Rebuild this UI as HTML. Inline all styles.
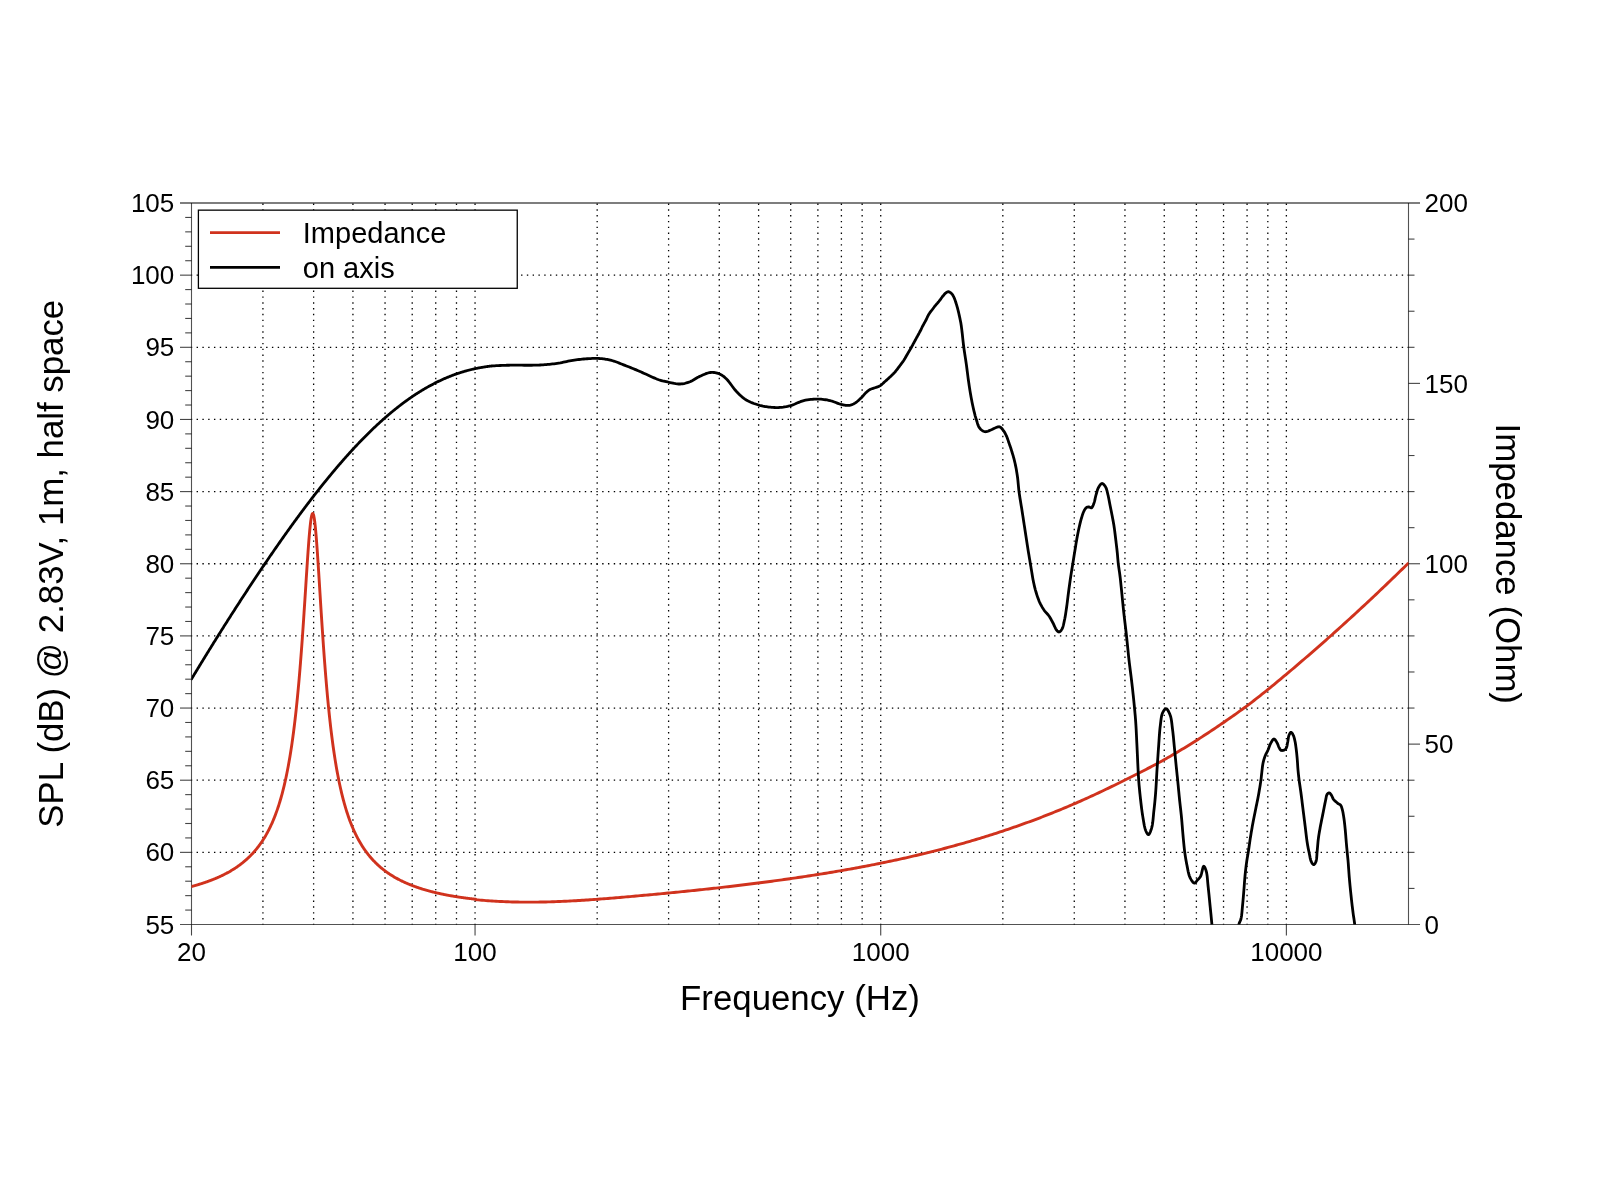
<!DOCTYPE html>
<html><head><meta charset="utf-8"><title>SPL and Impedance</title>
<style>
html,body{margin:0;padding:0;background:#fff;}
body{width:1600px;height:1200px;overflow:hidden;}
svg{display:block;will-change:transform;}
text{font-family:"Liberation Sans",sans-serif;fill:#000;}
</style></head><body>
<svg width="1600" height="1200" viewBox="0 0 1600 1200">
<rect x="0" y="0" width="1600" height="1200" fill="#fff"/>
<defs><clipPath id="pc"><rect x="191.5" y="203.0" width="1217.0" height="721.5"/></clipPath></defs>
<g stroke="#000" stroke-width="1.3" stroke-dashoffset="0.7" fill="none">
<line x1="262.93" y1="924.50" x2="262.93" y2="203.00" stroke-dasharray="1.4 4.409"/>
<line x1="313.62" y1="924.50" x2="313.62" y2="203.00" stroke-dasharray="1.4 4.409"/>
<line x1="352.93" y1="924.50" x2="352.93" y2="203.00" stroke-dasharray="1.4 4.409"/>
<line x1="385.05" y1="924.50" x2="385.05" y2="203.00" stroke-dasharray="1.4 4.409"/>
<line x1="412.21" y1="924.50" x2="412.21" y2="203.00" stroke-dasharray="1.4 4.409"/>
<line x1="435.74" y1="924.50" x2="435.74" y2="203.00" stroke-dasharray="1.4 4.409"/>
<line x1="456.49" y1="924.50" x2="456.49" y2="203.00" stroke-dasharray="1.4 4.409"/>
<line x1="475.05" y1="924.50" x2="475.05" y2="203.00" stroke-dasharray="1.4 4.409"/>
<line x1="597.17" y1="924.50" x2="597.17" y2="203.00" stroke-dasharray="1.4 4.409"/>
<line x1="668.60" y1="924.50" x2="668.60" y2="203.00" stroke-dasharray="1.4 4.409"/>
<line x1="719.28" y1="924.50" x2="719.28" y2="203.00" stroke-dasharray="1.4 4.409"/>
<line x1="758.60" y1="924.50" x2="758.60" y2="203.00" stroke-dasharray="1.4 4.409"/>
<line x1="790.72" y1="924.50" x2="790.72" y2="203.00" stroke-dasharray="1.4 4.409"/>
<line x1="817.88" y1="924.50" x2="817.88" y2="203.00" stroke-dasharray="1.4 4.409"/>
<line x1="841.40" y1="924.50" x2="841.40" y2="203.00" stroke-dasharray="1.4 4.409"/>
<line x1="862.15" y1="924.50" x2="862.15" y2="203.00" stroke-dasharray="1.4 4.409"/>
<line x1="880.72" y1="924.50" x2="880.72" y2="203.00" stroke-dasharray="1.4 4.409"/>
<line x1="1002.83" y1="924.50" x2="1002.83" y2="203.00" stroke-dasharray="1.4 4.409"/>
<line x1="1074.27" y1="924.50" x2="1074.27" y2="203.00" stroke-dasharray="1.4 4.409"/>
<line x1="1124.95" y1="924.50" x2="1124.95" y2="203.00" stroke-dasharray="1.4 4.409"/>
<line x1="1164.26" y1="924.50" x2="1164.26" y2="203.00" stroke-dasharray="1.4 4.409"/>
<line x1="1196.39" y1="924.50" x2="1196.39" y2="203.00" stroke-dasharray="1.4 4.409"/>
<line x1="1223.54" y1="924.50" x2="1223.54" y2="203.00" stroke-dasharray="1.4 4.409"/>
<line x1="1247.07" y1="924.50" x2="1247.07" y2="203.00" stroke-dasharray="1.4 4.409"/>
<line x1="1267.82" y1="924.50" x2="1267.82" y2="203.00" stroke-dasharray="1.4 4.409"/>
<line x1="1286.38" y1="924.50" x2="1286.38" y2="203.00" stroke-dasharray="1.4 4.409"/>
<line x1="191.50" y1="852.35" x2="1408.50" y2="852.35" stroke-dasharray="1.4 4.394"/>
<line x1="191.50" y1="780.20" x2="1408.50" y2="780.20" stroke-dasharray="1.4 4.394"/>
<line x1="191.50" y1="708.05" x2="1408.50" y2="708.05" stroke-dasharray="1.4 4.394"/>
<line x1="191.50" y1="635.90" x2="1408.50" y2="635.90" stroke-dasharray="1.4 4.394"/>
<line x1="191.50" y1="563.75" x2="1408.50" y2="563.75" stroke-dasharray="1.4 4.394"/>
<line x1="191.50" y1="491.60" x2="1408.50" y2="491.60" stroke-dasharray="1.4 4.394"/>
<line x1="191.50" y1="419.45" x2="1408.50" y2="419.45" stroke-dasharray="1.4 4.394"/>
<line x1="191.50" y1="347.30" x2="1408.50" y2="347.30" stroke-dasharray="1.4 4.394"/>
<line x1="191.50" y1="275.15" x2="1408.50" y2="275.15" stroke-dasharray="1.4 4.394"/>
</g>
<g stroke="#454545" stroke-width="1.1" fill="none">
<line x1="185.20" y1="910.07" x2="191.50" y2="910.07"/>
<line x1="185.20" y1="895.64" x2="191.50" y2="895.64"/>
<line x1="185.20" y1="881.21" x2="191.50" y2="881.21"/>
<line x1="185.20" y1="866.78" x2="191.50" y2="866.78"/>
<line x1="180.00" y1="852.35" x2="191.50" y2="852.35"/>
<line x1="185.20" y1="837.92" x2="191.50" y2="837.92"/>
<line x1="185.20" y1="823.49" x2="191.50" y2="823.49"/>
<line x1="185.20" y1="809.06" x2="191.50" y2="809.06"/>
<line x1="185.20" y1="794.63" x2="191.50" y2="794.63"/>
<line x1="180.00" y1="780.20" x2="191.50" y2="780.20"/>
<line x1="185.20" y1="765.77" x2="191.50" y2="765.77"/>
<line x1="185.20" y1="751.34" x2="191.50" y2="751.34"/>
<line x1="185.20" y1="736.91" x2="191.50" y2="736.91"/>
<line x1="185.20" y1="722.48" x2="191.50" y2="722.48"/>
<line x1="180.00" y1="708.05" x2="191.50" y2="708.05"/>
<line x1="185.20" y1="693.62" x2="191.50" y2="693.62"/>
<line x1="185.20" y1="679.19" x2="191.50" y2="679.19"/>
<line x1="185.20" y1="664.76" x2="191.50" y2="664.76"/>
<line x1="185.20" y1="650.33" x2="191.50" y2="650.33"/>
<line x1="180.00" y1="635.90" x2="191.50" y2="635.90"/>
<line x1="185.20" y1="621.47" x2="191.50" y2="621.47"/>
<line x1="185.20" y1="607.04" x2="191.50" y2="607.04"/>
<line x1="185.20" y1="592.61" x2="191.50" y2="592.61"/>
<line x1="185.20" y1="578.18" x2="191.50" y2="578.18"/>
<line x1="180.00" y1="563.75" x2="191.50" y2="563.75"/>
<line x1="185.20" y1="549.32" x2="191.50" y2="549.32"/>
<line x1="185.20" y1="534.89" x2="191.50" y2="534.89"/>
<line x1="185.20" y1="520.46" x2="191.50" y2="520.46"/>
<line x1="185.20" y1="506.03" x2="191.50" y2="506.03"/>
<line x1="180.00" y1="491.60" x2="191.50" y2="491.60"/>
<line x1="185.20" y1="477.17" x2="191.50" y2="477.17"/>
<line x1="185.20" y1="462.74" x2="191.50" y2="462.74"/>
<line x1="185.20" y1="448.31" x2="191.50" y2="448.31"/>
<line x1="185.20" y1="433.88" x2="191.50" y2="433.88"/>
<line x1="180.00" y1="419.45" x2="191.50" y2="419.45"/>
<line x1="185.20" y1="405.02" x2="191.50" y2="405.02"/>
<line x1="185.20" y1="390.59" x2="191.50" y2="390.59"/>
<line x1="185.20" y1="376.16" x2="191.50" y2="376.16"/>
<line x1="185.20" y1="361.73" x2="191.50" y2="361.73"/>
<line x1="180.00" y1="347.30" x2="191.50" y2="347.30"/>
<line x1="185.20" y1="332.87" x2="191.50" y2="332.87"/>
<line x1="185.20" y1="318.44" x2="191.50" y2="318.44"/>
<line x1="185.20" y1="304.01" x2="191.50" y2="304.01"/>
<line x1="185.20" y1="289.58" x2="191.50" y2="289.58"/>
<line x1="180.00" y1="275.15" x2="191.50" y2="275.15"/>
<line x1="185.20" y1="260.72" x2="191.50" y2="260.72"/>
<line x1="185.20" y1="246.29" x2="191.50" y2="246.29"/>
<line x1="185.20" y1="231.86" x2="191.50" y2="231.86"/>
<line x1="185.20" y1="217.43" x2="191.50" y2="217.43"/>
<line x1="1408.50" y1="888.42" x2="1414.50" y2="888.42"/>
<line x1="1408.50" y1="852.35" x2="1414.50" y2="852.35"/>
<line x1="1408.50" y1="816.27" x2="1414.50" y2="816.27"/>
<line x1="1408.50" y1="780.20" x2="1414.50" y2="780.20"/>
<line x1="1408.50" y1="744.12" x2="1420.00" y2="744.12"/>
<line x1="1408.50" y1="708.05" x2="1414.50" y2="708.05"/>
<line x1="1408.50" y1="671.98" x2="1414.50" y2="671.98"/>
<line x1="1408.50" y1="635.90" x2="1414.50" y2="635.90"/>
<line x1="1408.50" y1="599.83" x2="1414.50" y2="599.83"/>
<line x1="1408.50" y1="563.75" x2="1420.00" y2="563.75"/>
<line x1="1408.50" y1="527.67" x2="1414.50" y2="527.67"/>
<line x1="1408.50" y1="491.60" x2="1414.50" y2="491.60"/>
<line x1="1408.50" y1="455.52" x2="1414.50" y2="455.52"/>
<line x1="1408.50" y1="419.45" x2="1414.50" y2="419.45"/>
<line x1="1408.50" y1="383.38" x2="1420.00" y2="383.38"/>
<line x1="1408.50" y1="347.30" x2="1414.50" y2="347.30"/>
<line x1="1408.50" y1="311.23" x2="1414.50" y2="311.23"/>
<line x1="1408.50" y1="275.15" x2="1414.50" y2="275.15"/>
<line x1="1408.50" y1="239.08" x2="1414.50" y2="239.08"/>
<line x1="191.50" y1="924.50" x2="191.50" y2="935.50"/>
<line x1="475.05" y1="924.50" x2="475.05" y2="935.50"/>
<line x1="880.72" y1="924.50" x2="880.72" y2="935.50"/>
<line x1="1286.38" y1="924.50" x2="1286.38" y2="935.50"/>
</g>
<g stroke="#000" stroke-opacity="0.68" stroke-width="1.1" fill="none">
<line x1="191.50" y1="203.00" x2="191.50" y2="924.50"/>
<line x1="1408.50" y1="203.00" x2="1408.50" y2="924.50"/>
<line x1="180.00" y1="202.90" x2="1420.00" y2="202.90" stroke-width="1.5"/>
<line x1="180.00" y1="924.50" x2="1420.00" y2="924.50"/>
</g>
<g clip-path="url(#pc)" fill="none" stroke-linejoin="round" stroke-linecap="round">
<path d="M191.50,886.51 L191.94,886.39 L192.38,886.27 L192.82,886.15 L193.27,886.03 L193.71,885.91 L194.15,885.79 L194.59,885.66 L195.03,885.54 L195.47,885.41 L195.91,885.29 L196.35,885.16 L196.80,885.03 L197.24,884.90 L197.68,884.77 L198.12,884.64 L198.56,884.50 L199.00,884.37 L199.44,884.24 L199.89,884.10 L200.33,883.96 L200.77,883.82 L201.21,883.69 L201.65,883.54 L202.09,883.40 L202.53,883.26 L202.97,883.12 L203.42,882.97 L203.86,882.82 L204.30,882.68 L204.74,882.53 L205.18,882.38 L205.62,882.23 L206.06,882.07 L206.51,881.92 L206.95,881.77 L207.39,881.61 L207.83,881.45 L208.27,881.29 L208.71,881.13 L209.15,880.97 L209.60,880.81 L210.04,880.64 L210.48,880.48 L210.92,880.31 L211.36,880.14 L211.80,879.97 L212.24,879.80 L212.68,879.62 L213.13,879.45 L213.57,879.27 L214.01,879.09 L214.45,878.91 L214.89,878.73 L215.33,878.55 L215.77,878.36 L216.22,878.17 L216.66,877.99 L217.10,877.80 L217.54,877.60 L217.98,877.41 L218.42,877.21 L218.86,877.02 L219.30,876.82 L219.75,876.62 L220.19,876.41 L220.63,876.21 L221.07,876.00 L221.51,875.79 L221.95,875.58 L222.39,875.37 L222.84,875.15 L223.28,874.93 L223.72,874.71 L224.16,874.49 L224.60,874.27 L225.04,874.04 L225.48,873.81 L225.92,873.58 L226.37,873.35 L226.81,873.11 L227.25,872.88 L227.69,872.64 L228.13,872.39 L228.57,872.15 L229.01,871.90 L229.46,871.65 L229.90,871.39 L230.34,871.14 L230.78,870.88 L231.22,870.62 L231.66,870.35 L232.10,870.09 L232.55,869.82 L232.99,869.54 L233.43,869.27 L233.87,868.99 L234.31,868.71 L234.75,868.42 L235.19,868.13 L235.63,867.84 L236.08,867.54 L236.52,867.25 L236.96,866.94 L237.40,866.64 L237.84,866.33 L238.28,866.02 L238.72,865.70 L239.17,865.38 L239.61,865.06 L240.05,864.73 L240.49,864.40 L240.93,864.06 L241.37,863.72 L241.81,863.38 L242.25,863.03 L242.70,862.68 L243.14,862.32 L243.58,861.96 L244.02,861.59 L244.46,861.22 L244.90,860.85 L245.34,860.47 L245.79,860.08 L246.23,859.69 L246.67,859.30 L247.11,858.90 L247.55,858.49 L247.99,858.08 L248.43,857.67 L248.87,857.24 L249.32,856.82 L249.76,856.38 L250.20,855.95 L250.64,855.50 L251.08,855.05 L251.52,854.59 L251.96,854.13 L252.41,853.66 L252.85,853.18 L253.29,852.70 L253.73,852.20 L254.17,851.71 L254.61,851.20 L255.05,850.69 L255.49,850.17 L255.94,849.64 L256.38,849.10 L256.82,848.56 L257.26,848.01 L257.70,847.45 L258.14,846.88 L258.58,846.30 L259.03,845.71 L259.47,845.11 L259.91,844.51 L260.35,843.89 L260.79,843.27 L261.23,842.63 L261.67,841.98 L262.12,841.33 L262.56,840.66 L263.00,839.98 L263.44,839.29 L263.88,838.58 L264.32,837.87 L264.76,837.14 L265.20,836.40 L265.65,835.65 L266.09,834.88 L266.53,834.10 L266.97,833.31 L267.41,832.50 L267.85,831.68 L268.29,830.84 L268.74,829.99 L269.18,829.12 L269.62,828.23 L270.06,827.33 L270.50,826.41 L270.94,825.47 L271.38,824.51 L271.82,823.54 L272.27,822.54 L272.71,821.52 L273.15,820.49 L273.59,819.43 L274.03,818.35 L274.47,817.25 L274.91,816.13 L275.36,814.98 L275.80,813.80 L276.24,812.60 L276.68,811.38 L277.12,810.13 L277.56,808.85 L278.00,807.54 L278.44,806.20 L278.89,804.83 L279.33,803.43 L279.77,801.99 L280.21,800.52 L280.65,799.02 L281.09,797.48 L281.53,795.90 L281.98,794.29 L282.42,792.63 L282.86,790.93 L283.30,789.19 L283.74,787.41 L284.18,785.58 L284.62,783.70 L285.07,781.77 L285.51,779.79 L285.95,777.75 L286.39,775.66 L286.83,773.52 L287.27,771.31 L287.71,769.04 L288.15,766.71 L288.60,764.31 L289.04,761.84 L289.48,759.30 L289.92,756.68 L290.36,753.99 L290.80,751.22 L291.24,748.36 L291.69,745.41 L292.13,742.38 L292.57,739.25 L293.01,736.02 L293.45,732.69 L293.89,729.25 L294.33,725.71 L294.77,722.05 L295.22,718.28 L295.66,714.38 L296.10,710.36 L296.54,706.21 L296.98,701.92 L297.42,697.49 L297.86,692.92 L298.31,688.21 L298.75,683.34 L299.19,678.33 L299.63,673.15 L300.07,667.82 L300.51,662.33 L300.95,656.68 L301.39,650.87 L301.84,644.90 L302.28,638.78 L302.72,632.51 L303.16,626.10 L303.60,619.56 L304.04,612.91 L304.48,606.16 L304.93,599.33 L305.37,592.45 L305.81,585.54 L306.25,578.65 L306.69,571.81 L307.13,565.07 L307.57,558.49 L308.02,552.10 L308.46,545.99 L308.90,540.20 L309.34,534.82 L309.78,529.90 L310.22,525.52 L310.66,521.73 L311.10,518.60 L311.55,516.18 L311.99,514.51 L312.43,513.62 L312.87,513.53 L313.31,514.24 L313.75,515.74 L314.19,518.01 L314.64,521.00 L315.08,524.68 L315.52,528.99 L315.96,533.86 L316.40,539.22 L316.84,545.02 L317.28,551.18 L317.72,557.63 L318.17,564.32 L318.61,571.17 L319.05,578.15 L319.49,585.19 L319.93,592.26 L320.37,599.32 L320.81,606.34 L321.26,613.28 L321.70,620.12 L322.14,626.86 L322.58,633.46 L323.02,639.92 L323.46,646.24 L323.90,652.39 L324.34,658.39 L324.79,664.22 L325.23,669.89 L325.67,675.39 L326.11,680.72 L326.55,685.90 L326.99,690.92 L327.43,695.78 L327.88,700.49 L328.32,705.05 L328.76,709.47 L329.20,713.75 L329.64,717.89 L330.08,721.90 L330.52,725.79 L330.96,729.55 L331.41,733.20 L331.85,736.73 L332.29,740.15 L332.73,743.47 L333.17,746.68 L333.61,749.80 L334.05,752.82 L334.50,755.75 L334.94,758.60 L335.38,761.36 L335.82,764.04 L336.26,766.65 L336.70,769.18 L337.14,771.63 L337.59,774.02 L338.03,776.34 L338.47,778.60 L338.91,780.80 L339.35,782.93 L339.79,785.01 L340.23,787.04 L340.67,789.01 L341.12,790.93 L341.56,792.80 L342.00,794.62 L342.44,796.40 L342.88,798.13 L343.32,799.82 L343.76,801.47 L344.21,803.07 L344.65,804.64 L345.09,806.17 L345.53,807.67 L345.97,809.13 L346.41,810.56 L346.85,811.95 L347.29,813.31 L347.74,814.64 L348.18,815.95 L348.62,817.22 L349.06,818.46 L349.50,819.68 L349.94,820.88 L350.38,822.04 L350.83,823.19 L351.27,824.30 L351.71,825.40 L352.15,826.47 L352.59,827.52 L353.03,828.55 L353.47,829.56 L353.91,830.55 L354.36,831.52 L354.80,832.47 L355.24,833.41 L355.68,834.32 L356.12,835.22 L356.56,836.10 L357.00,836.96 L357.45,837.81 L357.89,838.64 L358.33,839.46 L358.77,840.27 L359.21,841.05 L359.65,841.83 L360.09,842.59 L360.54,843.34 L360.98,844.07 L361.42,844.79 L361.86,845.50 L362.30,846.20 L362.74,846.88 L363.18,847.56 L363.62,848.22 L364.07,848.87 L364.51,849.52 L364.95,850.15 L365.39,850.77 L365.83,851.38 L366.27,851.98 L366.71,852.57 L367.16,853.15 L367.60,853.73 L368.04,854.29 L368.48,854.85 L368.92,855.40 L369.36,855.94 L369.80,856.47 L370.24,856.99 L370.69,857.50 L371.13,858.01 L371.57,858.51 L372.01,859.01 L372.45,859.49 L372.89,859.97 L373.33,860.44 L373.78,860.91 L374.22,861.37 L374.66,861.82 L375.10,862.27 L375.54,862.71 L375.98,863.14 L376.42,863.57 L376.86,863.99 L377.31,864.41 L377.75,864.82 L378.19,865.22 L378.63,865.62 L379.07,866.02 L379.51,866.41 L379.95,866.79 L380.40,867.17 L380.84,867.55 L381.28,867.91 L381.72,868.28 L382.16,868.64 L382.60,869.00 L383.04,869.35 L383.48,869.69 L383.93,870.04 L384.37,870.38 L384.81,870.71 L385.25,871.04 L385.69,871.37 L386.13,871.69 L386.57,872.01 L387.02,872.32 L387.46,872.63 L387.90,872.94 L388.34,873.24 L388.78,873.54 L389.22,873.84 L389.66,874.13 L390.11,874.42 L390.55,874.71 L390.99,874.99 L391.43,875.27 L391.87,875.55 L392.31,875.82 L392.75,876.09 L393.19,876.36 L393.64,876.62 L394.08,876.88 L394.52,877.14 L394.96,877.39 L395.40,877.65 L395.84,877.90 L396.28,878.14 L396.73,878.39 L397.17,878.63 L397.61,878.87 L398.05,879.11 L398.49,879.34 L398.93,879.57 L399.37,879.80 L399.81,880.03 L400.26,880.25 L400.70,880.47 L401.14,880.69 L401.58,880.91 L402.02,881.13 L402.46,881.34 L402.90,881.55 L403.35,881.76 L403.79,881.96 L404.23,882.17 L404.67,882.37 L405.11,882.57 L405.55,882.77 L405.99,882.97 L406.43,883.16 L406.88,883.35 L407.32,883.54 L407.76,883.73 L408.20,883.92 L408.64,884.10 L409.08,884.28 L409.52,884.47 L409.97,884.65 L410.41,884.82 L410.85,885.00 L411.29,885.17 L411.73,885.35 L412.17,885.52 L412.61,885.69 L413.06,885.85 L413.50,886.02 L413.94,886.18 L414.38,886.35 L414.82,886.51 L415.26,886.67 L415.70,886.83 L416.14,886.98 L416.59,887.14 L417.03,887.29 L417.47,887.44 L417.91,887.59 L418.35,887.74 L418.79,887.89 L419.23,888.04 L419.68,888.18 L420.12,888.33 L420.56,888.47 L421.00,888.61 L421.44,888.75 L421.88,888.89 L422.32,889.03 L422.76,889.17 L423.21,889.30 L423.65,889.44 L424.09,889.57 L424.53,889.70 L424.97,889.83 L425.41,889.96 L425.85,890.09 L426.30,890.21 L426.74,890.34 L427.18,890.46 L427.62,890.59 L428.06,890.71 L428.50,890.83 L428.94,890.95 L429.38,891.07 L429.83,891.19 L430.27,891.31 L430.71,891.42 L431.15,891.54 L431.59,891.65 L432.03,891.76 L432.47,891.88 L432.92,891.99 L433.36,892.10 L433.80,892.21 L434.24,892.31 L434.68,892.42 L435.12,892.53 L435.56,892.63 L436.01,892.74 L436.45,892.84 L436.89,892.94 L437.33,893.05 L437.77,893.15 L438.21,893.25 L438.65,893.35 L439.09,893.44 L439.54,893.54 L439.98,893.64 L440.42,893.73 L440.86,893.83 L441.30,893.92 L441.74,894.02 L442.18,894.11 L442.63,894.20 L443.07,894.29 L443.51,894.38 L443.95,894.47 L444.39,894.56 L444.83,894.65 L445.27,894.73 L445.71,894.82 L446.16,894.91 L446.60,894.99 L447.04,895.08 L447.48,895.16 L447.92,895.24 L448.36,895.32 L448.80,895.40 L449.25,895.49 L449.69,895.56 L450.13,895.64 L450.57,895.72 L451.01,895.80 L451.45,895.88 L451.89,895.95 L452.33,896.03 L452.78,896.11 L453.22,896.18 L453.66,896.25 L454.10,896.33 L454.54,896.40 L454.98,896.47 L455.42,896.54 L455.87,896.61 L456.31,896.68 L456.75,896.75 L457.19,896.82 L457.63,896.89 L458.07,896.96 L458.51,897.03 L458.95,897.09 L459.40,897.16 L459.84,897.22 L460.28,897.29 L460.72,897.35 L461.16,897.42 L461.60,897.48 L462.04,897.54 L462.49,897.60 L462.93,897.67 L463.37,897.73 L463.81,897.79 L464.25,897.85 L464.69,897.91 L465.13,897.97 L465.58,898.02 L466.02,898.08 L466.46,898.14 L466.90,898.20 L467.34,898.25 L467.78,898.31 L468.22,898.36 L468.66,898.42 L469.11,898.47 L469.55,898.53 L469.99,898.58 L470.43,898.63 L470.87,898.68 L471.31,898.74 L471.75,898.79 L472.20,898.84 L472.64,898.89 L473.08,898.94 L473.52,898.99 L473.96,899.04 L474.40,899.09 L474.84,899.13 L475.28,899.18 L475.73,899.23 L476.00,899.71 L478.00,899.90 L480.00,900.08 L482.00,900.26 L484.00,900.43 L486.00,900.59 L488.00,900.74 L490.00,900.88 L492.00,901.01 L494.00,901.14 L496.00,901.26 L498.00,901.37 L500.00,901.47 L502.00,901.56 L504.00,901.65 L506.00,901.73 L508.00,901.80 L510.00,901.87 L512.00,901.93 L514.00,901.98 L516.00,902.02 L518.00,902.06 L520.00,902.09 L522.00,902.12 L524.00,902.14 L526.00,902.15 L528.00,902.15 L530.00,902.15 L532.00,902.15 L534.00,902.13 L536.00,902.12 L538.00,902.09 L540.00,902.06 L542.00,902.03 L544.00,901.99 L546.00,901.94 L548.00,901.89 L550.00,901.83 L552.00,901.77 L554.00,901.70 L556.00,901.63 L558.00,901.56 L560.00,901.48 L562.00,901.39 L564.00,901.30 L566.00,901.21 L568.00,901.11 L570.00,901.01 L572.00,900.90 L574.00,900.80 L576.00,900.68 L578.00,900.56 L580.00,900.44 L582.00,900.32 L584.00,900.19 L586.00,900.06 L588.00,899.93 L590.00,899.79 L592.00,899.65 L594.00,899.51 L596.00,899.36 L598.00,899.21 L600.00,899.06 L602.00,898.91 L604.00,898.76 L606.00,898.60 L608.00,898.44 L610.00,898.28 L612.00,898.11 L614.00,897.95 L616.00,897.78 L618.00,897.61 L620.00,897.44 L622.00,897.27 L624.00,897.09 L626.00,896.92 L628.00,896.75 L630.00,896.57 L632.00,896.39 L634.00,896.21 L636.00,896.03 L638.00,895.85 L640.00,895.67 L642.00,895.49 L644.00,895.31 L646.00,895.13 L648.00,894.94 L650.00,894.76 L652.00,894.57 L654.00,894.39 L656.00,894.20 L658.00,894.01 L660.00,893.82 L662.00,893.63 L664.00,893.44 L666.00,893.25 L668.00,893.05 L670.00,892.86 L672.00,892.66 L674.00,892.47 L676.00,892.27 L678.00,892.07 L680.00,891.87 L682.00,891.67 L684.00,891.47 L686.00,891.27 L688.00,891.06 L690.00,890.86 L692.00,890.65 L694.00,890.44 L696.00,890.23 L698.00,890.02 L700.00,889.81 L702.00,889.60 L704.00,889.38 L706.00,889.17 L708.00,888.95 L710.00,888.73 L712.00,888.51 L714.00,888.29 L716.00,888.07 L718.00,887.84 L720.00,887.62 L722.00,887.39 L724.00,887.16 L726.00,886.93 L728.00,886.70 L730.00,886.47 L732.00,886.23 L734.00,886.00 L736.00,885.76 L738.00,885.52 L740.00,885.28 L742.00,885.04 L744.00,884.79 L746.00,884.55 L748.00,884.30 L750.00,884.05 L752.00,883.80 L754.00,883.55 L756.00,883.30 L758.00,883.04 L760.00,882.78 L762.00,882.52 L764.00,882.26 L766.00,882.00 L768.00,881.74 L770.00,881.47 L772.00,881.20 L774.00,880.93 L776.00,880.66 L778.00,880.39 L780.00,880.11 L782.00,879.83 L784.00,879.55 L786.00,879.27 L788.00,878.99 L790.00,878.70 L792.00,878.42 L794.00,878.13 L796.00,877.83 L798.00,877.54 L800.00,877.25 L802.00,876.95 L804.00,876.65 L806.00,876.35 L808.00,876.04 L810.00,875.74 L812.00,875.43 L814.00,875.12 L816.00,874.80 L818.00,874.49 L820.00,874.17 L822.00,873.85 L824.00,873.52 L826.00,873.20 L828.00,872.87 L830.00,872.54 L832.00,872.21 L834.00,871.87 L836.00,871.53 L838.00,871.19 L840.00,870.85 L842.00,870.50 L844.00,870.15 L846.00,869.80 L848.00,869.44 L850.00,869.08 L852.00,868.72 L854.00,868.36 L856.00,867.99 L858.00,867.62 L860.00,867.25 L862.00,866.88 L864.00,866.50 L866.00,866.12 L868.00,865.73 L870.00,865.34 L872.00,864.95 L874.00,864.56 L876.00,864.16 L878.00,863.76 L880.00,863.35 L882.00,862.95 L884.00,862.54 L886.00,862.12 L888.00,861.70 L890.00,861.28 L892.00,860.86 L894.00,860.43 L896.00,860.00 L898.00,859.56 L900.00,859.13 L902.00,858.68 L904.00,858.24 L906.00,857.79 L908.00,857.33 L910.00,856.88 L912.00,856.42 L914.00,855.95 L916.00,855.48 L918.00,855.01 L920.00,854.53 L922.00,854.05 L924.00,853.57 L926.00,853.08 L928.00,852.59 L930.00,852.09 L932.00,851.59 L934.00,851.09 L936.00,850.58 L938.00,850.07 L940.00,849.55 L942.00,849.03 L944.00,848.51 L946.00,847.98 L948.00,847.44 L950.00,846.91 L952.00,846.36 L954.00,845.82 L956.00,845.27 L958.00,844.71 L960.00,844.15 L962.00,843.59 L964.00,843.02 L966.00,842.44 L968.00,841.87 L970.00,841.28 L972.00,840.70 L974.00,840.10 L976.00,839.51 L978.00,838.91 L980.00,838.30 L982.00,837.69 L984.00,837.07 L986.00,836.45 L988.00,835.83 L990.00,835.20 L992.00,834.56 L994.00,833.92 L996.00,833.28 L998.00,832.63 L1000.00,831.97 L1002.00,831.31 L1004.00,830.65 L1006.00,829.98 L1008.00,829.30 L1010.00,828.62 L1012.00,827.93 L1014.00,827.24 L1016.00,826.55 L1018.00,825.84 L1020.00,825.14 L1022.00,824.42 L1024.00,823.71 L1026.00,822.98 L1028.00,822.25 L1030.00,821.52 L1032.00,820.78 L1034.00,820.03 L1036.00,819.28 L1038.00,818.53 L1040.00,817.77 L1042.00,817.00 L1044.00,816.22 L1046.00,815.45 L1048.00,814.66 L1050.00,813.87 L1052.00,813.07 L1054.00,812.27 L1056.00,811.46 L1058.00,810.65 L1060.00,809.83 L1062.00,809.00 L1064.00,808.17 L1066.00,807.33 L1068.00,806.49 L1070.00,805.64 L1072.00,804.78 L1074.00,803.92 L1076.00,803.05 L1078.00,802.18 L1080.00,801.30 L1082.00,800.41 L1084.00,799.52 L1086.00,798.62 L1088.00,797.72 L1090.00,796.80 L1092.00,795.89 L1094.00,794.96 L1096.00,794.03 L1098.00,793.10 L1100.00,792.15 L1102.00,791.21 L1104.00,790.26 L1106.00,789.30 L1108.00,788.34 L1110.00,787.37 L1112.00,786.41 L1114.00,785.43 L1116.00,784.46 L1118.00,783.48 L1120.00,782.50 L1122.00,781.51 L1124.00,780.52 L1126.00,779.54 L1128.00,778.54 L1130.00,777.55 L1132.00,776.55 L1134.00,775.55 L1136.00,774.54 L1138.00,773.53 L1140.00,772.52 L1142.00,771.50 L1144.00,770.47 L1146.00,769.44 L1148.00,768.40 L1150.00,767.35 L1152.00,766.30 L1154.00,765.24 L1156.00,764.17 L1158.00,763.09 L1160.00,762.00 L1162.00,760.90 L1164.00,759.79 L1166.00,758.67 L1168.00,757.54 L1170.00,756.40 L1172.00,755.25 L1174.00,754.09 L1176.00,752.92 L1178.00,751.74 L1180.00,750.55 L1182.00,749.34 L1184.00,748.14 L1186.00,746.92 L1188.00,745.69 L1190.00,744.45 L1192.00,743.20 L1194.00,741.95 L1196.00,740.69 L1198.00,739.41 L1200.00,738.13 L1202.00,736.85 L1204.00,735.55 L1206.00,734.25 L1208.00,732.93 L1210.00,731.61 L1212.00,730.29 L1214.00,728.95 L1216.00,727.61 L1218.00,726.26 L1220.00,724.91 L1222.00,723.55 L1224.00,722.18 L1226.00,720.81 L1228.00,719.42 L1230.00,718.03 L1232.00,716.64 L1234.00,715.23 L1236.00,713.81 L1238.00,712.38 L1240.00,710.94 L1242.00,709.49 L1244.00,708.03 L1246.00,706.55 L1248.00,705.05 L1250.00,703.55 L1252.00,702.03 L1254.00,700.49 L1256.00,698.95 L1258.00,697.39 L1260.00,695.81 L1262.00,694.23 L1264.00,692.64 L1266.00,691.03 L1268.00,689.42 L1270.00,687.80 L1272.00,686.17 L1274.00,684.53 L1276.00,682.88 L1278.00,681.23 L1280.00,679.56 L1282.00,677.90 L1284.00,676.22 L1286.00,674.55 L1288.00,672.86 L1290.00,671.18 L1292.00,669.49 L1294.00,667.79 L1296.00,666.09 L1298.00,664.38 L1300.00,662.68 L1302.00,660.96 L1304.00,659.24 L1306.00,657.52 L1308.00,655.79 L1310.00,654.06 L1312.00,652.33 L1314.00,650.59 L1316.00,648.84 L1318.00,647.09 L1320.00,645.34 L1322.00,643.58 L1324.00,641.81 L1326.00,640.05 L1328.00,638.27 L1330.00,636.50 L1332.00,634.71 L1334.00,632.93 L1336.00,631.14 L1338.00,629.34 L1340.00,627.54 L1342.00,625.74 L1344.00,623.93 L1346.00,622.11 L1348.00,620.29 L1350.00,618.47 L1352.00,616.64 L1354.00,614.81 L1356.00,612.97 L1358.00,611.13 L1360.00,609.28 L1362.00,607.43 L1364.00,605.57 L1366.00,603.71 L1368.00,601.84 L1370.00,599.97 L1372.00,598.10 L1374.00,596.22 L1376.00,594.33 L1378.00,592.44 L1380.00,590.55 L1382.00,588.65 L1384.00,586.74 L1386.00,584.83 L1388.00,582.92 L1390.00,581.00 L1392.00,579.07 L1394.00,577.14 L1396.00,575.21 L1398.00,573.27 L1400.00,571.33 L1402.00,569.38 L1404.00,567.42 L1406.00,565.46 L1408.00,563.50" stroke="#d0321d" stroke-width="2.9"/>
<path d="M191.50,679.03 L192.00,678.20 L192.50,677.37 L193.00,676.55 L193.50,675.72 L194.00,674.89 L194.50,674.06 L195.00,673.24 L195.50,672.41 L196.00,671.59 L196.50,670.76 L197.00,669.94 L197.50,669.12 L198.00,668.30 L198.50,667.47 L199.00,666.65 L199.50,665.83 L200.00,665.01 L200.50,664.20 L201.00,663.38 L201.50,662.56 L202.00,661.74 L202.50,660.93 L203.00,660.11 L203.50,659.29 L204.00,658.48 L204.50,657.67 L205.00,656.85 L205.50,656.04 L206.00,655.23 L206.50,654.41 L207.00,653.60 L207.50,652.79 L208.00,651.98 L208.50,651.17 L209.00,650.37 L209.50,649.56 L210.00,648.75 L210.50,647.94 L211.00,647.14 L211.50,646.33 L212.00,645.52 L212.50,644.72 L213.00,643.92 L213.50,643.11 L214.00,642.31 L214.50,641.51 L215.00,640.70 L215.50,639.90 L216.00,639.10 L216.50,638.30 L217.00,637.50 L217.50,636.71 L218.00,635.91 L218.50,635.11 L219.00,634.31 L219.50,633.52 L220.00,632.72 L220.50,631.93 L221.00,631.13 L221.50,630.34 L222.00,629.54 L222.50,628.75 L223.00,627.96 L223.50,627.16 L224.00,626.37 L224.50,625.58 L225.00,624.79 L225.50,624.01 L226.00,623.22 L226.50,622.43 L227.00,621.64 L227.50,620.85 L228.00,620.07 L228.50,619.28 L229.00,618.50 L229.50,617.71 L230.00,616.93 L230.50,616.14 L231.00,615.36 L231.50,614.58 L232.00,613.80 L232.50,613.02 L233.00,612.24 L233.50,611.46 L234.00,610.68 L234.50,609.90 L235.00,609.12 L235.50,608.34 L236.00,607.57 L236.50,606.79 L237.00,606.02 L237.50,605.24 L238.00,604.47 L238.50,603.69 L239.00,602.92 L239.50,602.15 L240.00,601.37 L240.50,600.60 L241.00,599.83 L241.50,599.06 L242.00,598.30 L242.50,597.53 L243.00,596.76 L243.50,595.99 L244.00,595.22 L244.50,594.46 L245.00,593.69 L245.50,592.93 L246.00,592.16 L246.50,591.40 L247.00,590.64 L247.50,589.88 L248.00,589.11 L248.50,588.35 L249.00,587.59 L249.50,586.84 L250.00,586.08 L250.50,585.32 L251.00,584.56 L251.50,583.80 L252.00,583.05 L252.50,582.29 L253.00,581.54 L253.50,580.79 L254.00,580.03 L254.50,579.28 L255.00,578.53 L255.50,577.77 L256.00,577.02 L256.50,576.28 L257.00,575.53 L257.50,574.78 L258.00,574.03 L258.50,573.28 L259.00,572.54 L259.50,571.79 L260.00,571.05 L260.50,570.30 L261.00,569.56 L261.50,568.82 L262.00,568.08 L262.50,567.33 L263.00,566.59 L263.50,565.85 L264.00,565.12 L264.50,564.38 L265.00,563.64 L265.50,562.90 L266.00,562.17 L266.50,561.43 L267.00,560.70 L267.50,559.96 L268.00,559.23 L268.50,558.50 L269.00,557.77 L269.50,557.04 L270.00,556.31 L270.50,555.58 L271.00,554.85 L271.50,554.12 L272.00,553.40 L272.50,552.67 L273.00,551.95 L273.50,551.23 L274.00,550.50 L274.50,549.78 L275.00,549.06 L275.50,548.34 L276.00,547.62 L276.50,546.90 L277.00,546.18 L277.50,545.46 L278.00,544.75 L278.50,544.03 L279.00,543.32 L279.50,542.60 L280.00,541.89 L280.50,541.18 L281.00,540.47 L281.50,539.76 L282.00,539.05 L282.50,538.34 L283.00,537.63 L283.50,536.92 L284.00,536.22 L284.50,535.51 L285.00,534.81 L285.50,534.10 L286.00,533.40 L286.50,532.70 L287.00,532.00 L287.50,531.30 L288.00,530.60 L288.50,529.90 L289.00,529.21 L289.50,528.51 L290.00,527.82 L290.50,527.12 L291.00,526.43 L291.50,525.73 L292.00,525.04 L292.50,524.35 L293.00,523.67 L293.50,522.98 L294.00,522.29 L294.50,521.60 L295.00,520.92 L295.50,520.23 L296.00,519.55 L296.50,518.87 L297.00,518.19 L297.50,517.51 L298.00,516.83 L298.50,516.15 L299.00,515.47 L299.50,514.79 L300.00,514.12 L300.50,513.44 L301.00,512.77 L301.50,512.10 L302.00,511.43 L302.50,510.76 L303.00,510.09 L303.50,509.42 L304.00,508.75 L304.50,508.09 L305.00,507.42 L305.50,506.76 L306.00,506.09 L306.50,505.43 L307.00,504.77 L307.50,504.11 L308.00,503.45 L308.50,502.80 L309.00,502.14 L309.50,501.48 L310.00,500.83 L310.50,500.18 L311.00,499.52 L311.50,498.87 L312.00,498.22 L312.50,497.58 L313.00,496.93 L313.50,496.28 L314.00,495.64 L314.50,494.99 L315.00,494.35 L315.50,493.71 L316.00,493.07 L316.50,492.43 L317.00,491.79 L317.50,491.16 L318.00,490.52 L318.50,489.89 L319.00,489.25 L319.50,488.62 L320.00,487.99 L320.50,487.36 L321.00,486.73 L321.50,486.10 L322.00,485.48 L322.50,484.85 L323.00,484.23 L323.50,483.60 L324.00,482.98 L324.50,482.36 L325.00,481.75 L325.50,481.13 L326.00,480.51 L326.50,479.90 L327.00,479.28 L327.50,478.67 L328.00,478.06 L328.50,477.45 L329.00,476.84 L329.50,476.24 L330.00,475.63 L330.50,475.02 L331.00,474.42 L331.50,473.82 L332.00,473.22 L332.50,472.62 L333.00,472.02 L333.50,471.42 L334.00,470.83 L334.50,470.23 L335.00,469.64 L335.50,469.05 L336.00,468.46 L336.50,467.87 L337.00,467.28 L337.50,466.70 L338.00,466.11 L338.50,465.53 L339.00,464.94 L339.50,464.36 L340.00,463.78 L340.50,463.21 L341.00,462.63 L341.50,462.06 L342.00,461.48 L342.50,460.91 L343.00,460.34 L343.50,459.77 L344.00,459.20 L344.50,458.64 L345.00,458.07 L345.50,457.51 L346.00,456.94 L346.50,456.38 L347.00,455.82 L347.50,455.26 L348.00,454.71 L348.50,454.15 L349.00,453.60 L349.50,453.05 L350.00,452.50 L350.50,451.95 L351.00,451.40 L351.50,450.85 L352.00,450.31 L352.50,449.76 L353.00,449.22 L353.50,448.68 L354.00,448.14 L354.50,447.61 L355.00,447.07 L355.50,446.53 L356.00,446.00 L356.50,445.47 L357.00,444.94 L357.50,444.41 L358.00,443.89 L358.50,443.36 L359.00,442.84 L359.50,442.31 L360.00,441.79 L360.50,441.28 L361.00,440.76 L361.50,440.24 L362.00,439.73 L362.50,439.21 L363.00,438.70 L363.50,438.19 L364.00,437.68 L364.50,437.18 L365.00,436.68 L365.50,436.17 L366.00,435.67 L366.50,435.17 L367.00,434.67 L367.50,434.17 L368.00,433.68 L368.50,433.18 L369.00,432.69 L369.50,432.20 L370.00,431.71 L370.50,431.23 L371.00,430.74 L371.50,430.25 L372.00,429.77 L372.50,429.29 L373.00,428.82 L373.50,428.34 L374.00,427.86 L374.50,427.39 L375.00,426.91 L375.50,426.44 L376.00,425.97 L376.50,425.51 L377.00,425.04 L377.50,424.58 L378.00,424.12 L378.50,423.66 L379.00,423.20 L379.50,422.74 L380.00,422.28 L380.50,421.83 L381.00,421.38 L381.50,420.93 L382.00,420.48 L382.50,420.03 L383.00,419.58 L383.50,419.14 L384.00,418.70 L384.50,418.26 L385.00,417.82 L385.50,417.39 L386.00,416.95 L386.50,416.52 L387.00,416.08 L387.50,415.65 L388.00,415.23 L388.50,414.80 L389.00,414.38 L389.50,413.95 L390.00,413.53 L390.50,413.11 L391.00,412.70 L391.50,412.28 L392.00,411.87 L392.50,411.45 L393.00,411.04 L393.50,410.64 L394.00,410.23 L394.50,409.82 L395.00,409.42 L395.50,409.02 L396.00,408.62 L396.50,408.22 L397.00,407.83 L397.50,407.43 L398.00,407.04 L398.50,406.65 L399.00,406.26 L399.50,405.87 L400.00,405.48 L400.50,405.10 L401.00,404.72 L401.50,404.34 L402.00,403.96 L402.50,403.59 L403.00,403.21 L403.50,402.84 L404.00,402.47 L404.50,402.10 L405.00,401.73 L405.50,401.37 L406.00,401.00 L406.50,400.64 L407.00,400.28 L407.50,399.92 L408.00,399.57 L408.50,399.21 L409.00,398.86 L409.50,398.51 L410.00,398.16 L410.50,397.82 L411.00,397.47 L411.50,397.13 L412.00,396.79 L412.50,396.45 L413.00,396.11 L413.50,395.77 L414.00,395.44 L414.50,395.11 L415.00,394.78 L415.50,394.45 L416.00,394.12 L416.50,393.80 L417.00,393.48 L417.50,393.15 L418.00,392.84 L418.50,392.52 L419.00,392.20 L419.50,391.89 L420.00,391.58 L420.50,391.27 L421.00,390.96 L421.50,390.66 L422.00,390.35 L422.50,390.05 L423.00,389.75 L423.50,389.45 L424.00,389.15 L424.50,388.86 L425.00,388.57 L425.50,388.28 L426.00,387.99 L426.50,387.70 L427.00,387.41 L427.50,387.13 L428.00,386.85 L428.50,386.57 L429.00,386.29 L429.50,386.02 L430.00,385.74 L430.50,385.47 L431.00,385.20 L431.50,384.93 L432.00,384.67 L432.50,384.40 L433.00,384.14 L433.50,383.88 L434.00,383.62 L434.50,383.36 L435.00,383.11 L435.50,382.85 L436.00,382.60 L436.50,382.35 L437.00,382.11 L437.50,381.86 L438.00,381.62 L438.50,381.37 L439.00,381.13 L439.50,380.90 L440.00,380.66 L440.50,380.43 L441.00,380.19 L441.50,379.96 L442.00,379.73 L442.50,379.51 L443.00,379.28 L443.50,379.06 L444.00,378.84 L444.50,378.62 L445.00,378.40 L445.50,378.19 L446.00,377.97 L446.50,377.76 L447.00,377.55 L447.50,377.34 L448.00,377.13 L448.50,376.93 L449.00,376.73 L449.50,376.53 L450.00,376.33 L450.50,376.13 L451.00,375.94 L451.50,375.74 L452.00,375.55 L452.50,375.36 L453.00,375.17 L453.50,374.99 L454.00,374.80 L454.50,374.62 L455.00,374.44 L455.50,374.26 L456.00,374.09 L456.50,373.91 L457.00,373.74 L457.50,373.57 L458.00,373.40 L458.50,373.23 L459.00,373.06 L459.50,372.90 L460.00,372.74 L460.50,372.58 L461.00,372.42 L461.50,372.26 L462.00,372.11 L462.50,371.95 L463.00,371.80 L463.50,371.65 L464.00,371.50 L464.50,371.36 L465.00,371.21 L465.50,371.07 L466.00,370.93 L466.50,370.79 L467.00,370.66 L467.50,370.52 L468.00,370.39 L468.50,370.25 L469.00,370.12 L469.50,370.00 L470.00,369.87 L470.50,369.74 L471.00,369.62 L471.50,369.50 L472.00,369.38 L472.50,369.26 L473.00,369.15 L473.50,369.03 L474.00,368.92 L474.50,368.81 L475.00,368.70 L475.50,368.59 L476.00,368.49 L476.50,368.38 L477.00,368.28 L477.50,368.18 L478.00,368.08 L478.50,367.98 L479.00,367.89 L479.50,367.79 L480.00,367.70 L480.50,367.61 L481.00,367.52 L481.50,367.43 L482.00,367.35 L482.50,367.26 L483.00,367.18 L483.50,367.10 L484.00,367.02 L484.50,366.94 L485.00,366.86 L485.50,366.79 L486.00,366.72 L486.50,366.64 L487.00,366.58 L487.50,366.51 L487.98,366.44 L488.44,366.38 L488.89,366.31 L489.35,366.25 L489.82,366.19 L490.33,366.13 L490.88,366.07 L491.50,366.02 L492.87,365.91 L494.49,365.80 L496.28,365.70 L498.19,365.60 L500.14,365.51 L502.07,365.43 L503.91,365.36 L505.60,365.30 L506.84,365.27 L508.01,365.24 L509.12,365.23 L510.22,365.22 L511.32,365.21 L512.47,365.21 L513.68,365.21 L515.00,365.20 L517.06,365.20 L519.33,365.21 L521.73,365.22 L524.21,365.24 L526.72,365.25 L529.18,365.25 L531.54,365.24 L533.75,365.20 L535.43,365.16 L537.05,365.11 L538.62,365.05 L540.16,364.99 L541.68,364.91 L543.19,364.83 L544.71,364.72 L546.25,364.60 L547.81,364.46 L549.38,364.31 L550.94,364.15 L552.51,363.97 L554.07,363.77 L555.63,363.57 L557.19,363.34 L558.75,363.10 L560.32,362.83 L561.88,362.52 L563.44,362.20 L565.00,361.86 L566.56,361.52 L568.12,361.19 L569.68,360.88 L571.25,360.60 L572.81,360.35 L574.36,360.11 L575.91,359.89 L577.47,359.68 L579.03,359.49 L580.59,359.31 L582.17,359.15 L583.75,359.00 L585.42,358.86 L587.14,358.74 L588.87,358.62 L590.61,358.53 L592.33,358.45 L594.00,358.41 L595.60,358.39 L597.10,358.40 L598.18,358.43 L599.21,358.48 L600.20,358.54 L601.16,358.62 L602.11,358.71 L603.05,358.82 L604.01,358.95 L605.00,359.10 L606.07,359.28 L607.14,359.47 L608.22,359.69 L609.30,359.92 L610.39,360.18 L611.49,360.46 L612.61,360.77 L613.75,361.10 L615.10,361.53 L616.48,362.02 L617.88,362.55 L619.30,363.11 L620.73,363.68 L622.16,364.26 L623.59,364.84 L625.00,365.40 L626.41,365.95 L627.83,366.51 L629.25,367.07 L630.67,367.63 L632.09,368.19 L633.49,368.76 L634.88,369.33 L636.25,369.90 L637.52,370.44 L638.77,370.98 L640.00,371.52 L641.22,372.06 L642.45,372.61 L643.69,373.17 L644.95,373.73 L646.25,374.30 L647.75,374.97 L649.30,375.69 L650.88,376.42 L652.48,377.16 L654.08,377.88 L655.67,378.57 L657.23,379.20 L658.75,379.75 L660.03,380.17 L661.29,380.54 L662.53,380.88 L663.76,381.18 L664.99,381.46 L666.22,381.73 L667.47,381.99 L668.75,382.25 L670.12,382.54 L671.53,382.85 L672.95,383.16 L674.37,383.45 L675.80,383.70 L677.22,383.88 L678.62,383.99 L680.00,384.00 L681.29,383.92 L682.56,383.76 L683.82,383.54 L685.07,383.27 L686.32,382.94 L687.55,382.56 L688.78,382.15 L690.00,381.70 L691.27,381.16 L692.52,380.52 L693.76,379.81 L694.99,379.06 L696.23,378.31 L697.47,377.57 L698.72,376.87 L700.00,376.25 L701.30,375.66 L702.63,375.07 L703.97,374.48 L705.32,373.93 L706.66,373.43 L708.00,373.01 L709.32,372.69 L710.60,372.50 L711.71,372.43 L712.81,372.43 L713.90,372.50 L714.98,372.63 L716.05,372.82 L717.09,373.08 L718.11,373.39 L719.10,373.75 L720.06,374.17 L720.98,374.65 L721.88,375.19 L722.75,375.79 L723.62,376.45 L724.48,377.16 L725.36,377.93 L726.25,378.75 L727.48,380.02 L728.70,381.48 L729.93,383.09 L731.16,384.78 L732.41,386.49 L733.67,388.18 L734.95,389.79 L736.25,391.25 L737.44,392.49 L738.64,393.70 L739.84,394.88 L741.05,396.02 L742.30,397.10 L743.57,398.13 L744.89,399.10 L746.25,400.00 L747.68,400.82 L749.19,401.58 L750.75,402.28 L752.33,402.92 L753.92,403.51 L755.50,404.05 L757.03,404.54 L758.50,405.00 L759.67,405.35 L760.80,405.65 L761.91,405.92 L763.00,406.16 L764.09,406.37 L765.20,406.56 L766.33,406.74 L767.50,406.90 L768.84,407.07 L770.21,407.22 L771.61,407.35 L773.03,407.45 L774.46,407.52 L775.89,407.56 L777.32,407.55 L778.75,407.50 L780.22,407.40 L781.69,407.27 L783.16,407.09 L784.64,406.87 L786.12,406.62 L787.61,406.32 L789.10,405.98 L790.60,405.60 L792.22,405.10 L793.84,404.48 L795.47,403.80 L797.10,403.07 L798.74,402.35 L800.39,401.68 L802.06,401.08 L803.75,400.60 L805.48,400.22 L807.25,399.90 L809.04,399.64 L810.84,399.43 L812.64,399.27 L814.42,399.16 L816.18,399.11 L817.90,399.10 L819.46,399.14 L821.01,399.22 L822.54,399.36 L824.05,399.53 L825.56,399.74 L827.05,399.99 L828.53,400.28 L830.00,400.60 L831.45,400.98 L832.91,401.45 L834.36,401.98 L835.80,402.53 L837.21,403.08 L838.60,403.60 L839.95,404.04 L841.25,404.40 L842.26,404.64 L843.24,404.86 L844.20,405.06 L845.14,405.24 L846.06,405.37 L846.97,405.44 L847.86,405.46 L848.75,405.40 L849.57,405.28 L850.37,405.11 L851.16,404.88 L851.94,404.61 L852.71,404.30 L853.47,403.94 L854.24,403.54 L855.00,403.10 L855.92,402.50 L856.86,401.80 L857.79,401.02 L858.72,400.18 L859.63,399.33 L860.50,398.48 L861.33,397.66 L862.10,396.90 L862.66,396.33 L863.17,395.77 L863.65,395.21 L864.12,394.66 L864.57,394.12 L865.03,393.59 L865.50,393.09 L866.00,392.60 L866.48,392.16 L866.96,391.73 L867.44,391.31 L867.92,390.91 L868.42,390.52 L868.93,390.16 L869.46,389.82 L870.00,389.50 L870.58,389.21 L871.19,388.97 L871.81,388.75 L872.45,388.55 L873.09,388.36 L873.73,388.17 L874.37,387.97 L875.00,387.75 L875.63,387.52 L876.26,387.31 L876.90,387.09 L877.53,386.87 L878.16,386.64 L878.78,386.38 L879.40,386.09 L880.00,385.75 L880.65,385.32 L881.29,384.84 L881.92,384.32 L882.54,383.77 L883.15,383.20 L883.77,382.63 L884.38,382.06 L885.00,381.50 L885.63,380.95 L886.26,380.40 L886.88,379.84 L887.51,379.29 L888.14,378.72 L888.76,378.16 L889.38,377.58 L890.00,377.00 L890.63,376.40 L891.27,375.80 L891.90,375.20 L892.53,374.59 L893.16,373.97 L893.78,373.33 L894.39,372.68 L895.00,372.00 L895.65,371.24 L896.29,370.45 L896.93,369.63 L897.56,368.79 L898.19,367.95 L898.80,367.12 L899.41,366.30 L900.00,365.50 L900.53,364.80 L901.05,364.11 L901.56,363.43 L902.07,362.75 L902.56,362.08 L903.05,361.40 L903.53,360.71 L904.00,360.00 L904.46,359.27 L904.91,358.54 L905.34,357.80 L905.77,357.05 L906.19,356.30 L906.62,355.54 L907.05,354.77 L907.50,354.00 L907.99,353.16 L908.51,352.29 L909.03,351.41 L909.55,350.52 L910.06,349.65 L910.57,348.78 L911.05,347.95 L911.50,347.15 L911.84,346.53 L912.17,345.94 L912.48,345.36 L912.78,344.80 L913.07,344.23 L913.37,343.67 L913.68,343.09 L914.00,342.50 L914.36,341.83 L914.73,341.16 L915.10,340.47 L915.48,339.78 L915.86,339.08 L916.24,338.39 L916.62,337.69 L917.00,337.00 L917.38,336.31 L917.75,335.63 L918.13,334.95 L918.51,334.27 L918.88,333.58 L919.26,332.90 L919.63,332.20 L920.00,331.50 L920.38,330.76 L920.75,330.01 L921.13,329.26 L921.50,328.50 L921.87,327.74 L922.25,326.99 L922.62,326.24 L923.00,325.50 L923.37,324.80 L923.75,324.11 L924.12,323.43 L924.50,322.75 L924.88,322.07 L925.25,321.39 L925.63,320.70 L926.00,320.00 L926.38,319.25 L926.75,318.49 L927.11,317.71 L927.47,316.93 L927.84,316.16 L928.22,315.40 L928.60,314.68 L929.00,314.00 L929.36,313.45 L929.72,312.92 L930.10,312.42 L930.48,311.93 L930.86,311.45 L931.24,310.97 L931.62,310.49 L932.00,310.00 L932.37,309.50 L932.75,308.99 L933.12,308.48 L933.49,307.98 L933.87,307.47 L934.24,306.97 L934.62,306.48 L935.00,306.00 L935.37,305.54 L935.76,305.09 L936.15,304.64 L936.53,304.20 L936.92,303.76 L937.29,303.33 L937.66,302.91 L938.00,302.50 L938.27,302.17 L938.52,301.86 L938.77,301.56 L939.01,301.27 L939.24,300.97 L939.49,300.66 L939.74,300.34 L940.00,300.00 L940.35,299.54 L940.71,299.06 L941.08,298.55 L941.45,298.03 L941.84,297.50 L942.22,296.98 L942.61,296.48 L943.00,296.00 L943.37,295.55 L943.73,295.10 L944.10,294.65 L944.47,294.21 L944.85,293.78 L945.23,293.40 L945.61,293.05 L946.00,292.75 L946.30,292.54 L946.61,292.35 L946.92,292.17 L947.23,292.02 L947.55,291.89 L947.86,291.80 L948.18,291.75 L948.50,291.75 L948.87,291.81 L949.26,291.94 L949.65,292.11 L950.04,292.34 L950.43,292.60 L950.80,292.88 L951.16,293.19 L951.50,293.50 L951.87,293.89 L952.22,294.33 L952.55,294.81 L952.86,295.31 L953.16,295.84 L953.45,296.39 L953.73,296.94 L954.00,297.50 L954.29,298.13 L954.56,298.78 L954.82,299.45 L955.06,300.14 L955.30,300.84 L955.53,301.55 L955.77,302.27 L956.00,303.00 L956.26,303.83 L956.53,304.69 L956.79,305.57 L957.04,306.46 L957.29,307.35 L957.54,308.24 L957.77,309.13 L958.00,310.00 L958.21,310.82 L958.41,311.63 L958.60,312.43 L958.78,313.23 L958.96,314.04 L959.14,314.85 L959.32,315.67 L959.50,316.50 L959.70,317.41 L959.89,318.33 L960.09,319.27 L960.29,320.21 L960.48,321.16 L960.66,322.11 L960.84,323.06 L961.00,324.00 L961.15,324.92 L961.28,325.81 L961.40,326.69 L961.52,327.58 L961.63,328.49 L961.75,329.43 L961.87,330.43 L962.00,331.50 L962.20,333.17 L962.40,334.97 L962.60,336.87 L962.81,338.86 L963.03,340.89 L963.26,342.94 L963.50,344.99 L963.75,347.00 L964.04,349.10 L964.34,351.21 L964.67,353.34 L965.00,355.49 L965.33,357.64 L965.66,359.79 L965.99,361.95 L966.30,364.10 L966.60,366.29 L966.89,368.49 L967.17,370.70 L967.45,372.92 L967.73,375.12 L968.01,377.31 L968.30,379.47 L968.60,381.60 L968.88,383.55 L969.17,385.47 L969.45,387.37 L969.75,389.26 L970.04,391.13 L970.35,393.00 L970.67,394.85 L971.00,396.70 L971.33,398.50 L971.68,400.33 L972.04,402.15 L972.41,403.96 L972.78,405.74 L973.16,407.47 L973.53,409.13 L973.90,410.70 L974.18,411.85 L974.45,412.95 L974.72,414.00 L974.99,415.03 L975.26,416.03 L975.56,417.04 L975.87,418.06 L976.20,419.10 L976.56,420.26 L976.92,421.48 L977.28,422.73 L977.67,423.97 L978.09,425.16 L978.56,426.29 L979.09,427.31 L979.70,428.20 L980.25,428.84 L980.85,429.44 L981.50,430.00 L982.17,430.50 L982.87,430.93 L983.58,431.28 L984.29,431.54 L985.00,431.70 L985.70,431.73 L986.43,431.64 L987.18,431.46 L987.93,431.20 L988.68,430.90 L989.41,430.59 L990.12,430.28 L990.80,430.00 L991.36,429.77 L991.90,429.51 L992.42,429.25 L992.93,428.98 L993.44,428.71 L993.95,428.45 L994.47,428.21 L995.00,428.00 L995.56,427.78 L996.13,427.54 L996.71,427.30 L997.30,427.08 L997.87,426.90 L998.44,426.78 L998.98,426.74 L999.50,426.80 L999.99,426.98 L1000.47,427.26 L1000.92,427.62 L1001.36,428.05 L1001.79,428.51 L1002.20,429.01 L1002.61,429.51 L1003.00,430.00 L1003.42,430.54 L1003.83,431.11 L1004.21,431.70 L1004.59,432.31 L1004.95,432.95 L1005.30,433.61 L1005.65,434.29 L1006.00,435.00 L1006.41,435.89 L1006.80,436.84 L1007.18,437.82 L1007.55,438.83 L1007.92,439.87 L1008.28,440.91 L1008.64,441.96 L1009.00,443.00 L1009.38,444.09 L1009.77,445.19 L1010.15,446.29 L1010.53,447.40 L1010.90,448.53 L1011.27,449.67 L1011.64,450.82 L1012.00,452.00 L1012.39,453.31 L1012.79,454.63 L1013.18,455.97 L1013.56,457.34 L1013.94,458.72 L1014.31,460.12 L1014.66,461.55 L1015.00,463.00 L1015.36,464.66 L1015.71,466.37 L1016.05,468.10 L1016.37,469.87 L1016.68,471.65 L1016.97,473.44 L1017.24,475.22 L1017.50,477.00 L1017.73,478.78 L1017.92,480.56 L1018.09,482.33 L1018.25,484.11 L1018.41,485.91 L1018.58,487.73 L1018.77,489.59 L1019.00,491.50 L1019.31,493.75 L1019.65,496.07 L1020.03,498.43 L1020.42,500.83 L1020.82,503.25 L1021.22,505.67 L1021.62,508.10 L1022.00,510.50 L1022.38,512.93 L1022.75,515.36 L1023.13,517.79 L1023.50,520.23 L1023.88,522.68 L1024.25,525.12 L1024.63,527.56 L1025.00,530.00 L1025.38,532.47 L1025.76,534.99 L1026.15,537.52 L1026.53,540.05 L1026.91,542.53 L1027.29,544.96 L1027.65,547.29 L1028.00,549.50 L1028.27,551.15 L1028.53,552.75 L1028.79,554.29 L1029.04,555.79 L1029.28,557.25 L1029.53,558.69 L1029.77,560.10 L1030.00,561.50 L1030.20,562.68 L1030.38,563.82 L1030.57,564.92 L1030.75,566.01 L1030.93,567.10 L1031.11,568.20 L1031.30,569.33 L1031.50,570.50 L1031.73,571.88 L1031.96,573.30 L1032.20,574.75 L1032.44,576.22 L1032.69,577.69 L1032.94,579.15 L1033.22,580.60 L1033.50,582.00 L1033.78,583.29 L1034.06,584.56 L1034.35,585.81 L1034.65,587.06 L1034.97,588.29 L1035.29,589.53 L1035.64,590.76 L1036.00,592.00 L1036.38,593.27 L1036.77,594.54 L1037.18,595.82 L1037.60,597.10 L1038.04,598.36 L1038.51,599.61 L1038.99,600.82 L1039.50,602.00 L1040.00,603.07 L1040.52,604.13 L1041.06,605.16 L1041.62,606.18 L1042.19,607.17 L1042.78,608.14 L1043.38,609.08 L1044.00,610.00 L1044.59,610.81 L1045.22,611.57 L1045.86,612.31 L1046.51,613.03 L1047.17,613.74 L1047.81,614.47 L1048.42,615.22 L1049.00,616.00 L1049.56,616.83 L1050.09,617.68 L1050.60,618.55 L1051.10,619.44 L1051.58,620.33 L1052.06,621.22 L1052.53,622.11 L1053.00,623.00 L1053.46,623.90 L1053.89,624.85 L1054.32,625.83 L1054.75,626.79 L1055.17,627.72 L1055.60,628.58 L1056.04,629.35 L1056.50,630.00 L1056.80,630.37 L1057.11,630.74 L1057.42,631.08 L1057.73,631.39 L1058.05,631.65 L1058.36,631.85 L1058.68,631.97 L1059.00,632.00 L1059.38,631.91 L1059.77,631.71 L1060.16,631.40 L1060.56,631.01 L1060.95,630.56 L1061.32,630.06 L1061.67,629.53 L1062.00,629.00 L1062.43,628.14 L1062.81,627.17 L1063.14,626.09 L1063.44,624.93 L1063.72,623.72 L1063.98,622.48 L1064.24,621.23 L1064.50,620.00 L1064.80,618.59 L1065.07,617.15 L1065.33,615.68 L1065.58,614.18 L1065.81,612.65 L1066.04,611.11 L1066.27,609.56 L1066.50,608.00 L1066.74,606.31 L1066.97,604.60 L1067.19,602.87 L1067.41,601.13 L1067.62,599.37 L1067.84,597.59 L1068.07,595.80 L1068.30,594.00 L1068.56,592.04 L1068.82,590.05 L1069.09,588.04 L1069.37,586.01 L1069.65,583.98 L1069.93,581.96 L1070.21,579.96 L1070.50,578.00 L1070.78,576.17 L1071.06,574.36 L1071.35,572.56 L1071.64,570.78 L1071.93,569.00 L1072.22,567.23 L1072.51,565.47 L1072.80,563.70 L1073.08,561.97 L1073.36,560.23 L1073.63,558.50 L1073.91,556.77 L1074.18,555.06 L1074.46,553.35 L1074.73,551.67 L1075.00,550.00 L1075.25,548.45 L1075.50,546.92 L1075.75,545.39 L1075.99,543.88 L1076.24,542.38 L1076.49,540.90 L1076.74,539.44 L1077.00,538.00 L1077.24,536.70 L1077.48,535.43 L1077.72,534.18 L1077.96,532.94 L1078.21,531.70 L1078.46,530.47 L1078.73,529.24 L1079.00,528.00 L1079.29,526.73 L1079.58,525.45 L1079.88,524.16 L1080.19,522.88 L1080.51,521.61 L1080.83,520.37 L1081.16,519.16 L1081.50,518.00 L1081.79,517.04 L1082.08,516.09 L1082.37,515.15 L1082.67,514.24 L1082.98,513.37 L1083.30,512.53 L1083.64,511.74 L1084.00,511.00 L1084.28,510.47 L1084.57,509.94 L1084.86,509.43 L1085.16,508.95 L1085.48,508.51 L1085.80,508.11 L1086.14,507.77 L1086.50,507.50 L1086.79,507.34 L1087.09,507.21 L1087.40,507.12 L1087.72,507.05 L1088.04,507.01 L1088.37,506.99 L1088.69,506.99 L1089.00,507.00 L1089.32,507.06 L1089.64,507.19 L1089.97,507.35 L1090.29,507.53 L1090.61,507.69 L1090.92,507.81 L1091.22,507.85 L1091.50,507.80 L1091.88,507.55 L1092.23,507.13 L1092.57,506.58 L1092.88,505.93 L1093.18,505.22 L1093.46,504.47 L1093.73,503.72 L1094.00,503.00 L1094.30,502.11 L1094.57,501.15 L1094.81,500.15 L1095.04,499.12 L1095.26,498.08 L1095.49,497.03 L1095.73,496.00 L1096.00,495.00 L1096.27,494.03 L1096.54,493.03 L1096.81,492.04 L1097.10,491.05 L1097.40,490.09 L1097.73,489.16 L1098.09,488.30 L1098.50,487.50 L1098.87,486.85 L1099.28,486.18 L1099.71,485.52 L1100.16,484.90 L1100.62,484.35 L1101.08,483.92 L1101.54,483.62 L1102.00,483.50 L1102.44,483.56 L1102.90,483.78 L1103.36,484.12 L1103.83,484.56 L1104.28,485.08 L1104.72,485.64 L1105.13,486.22 L1105.50,486.80 L1105.94,487.61 L1106.31,488.52 L1106.65,489.52 L1106.95,490.57 L1107.22,491.67 L1107.48,492.78 L1107.73,493.90 L1108.00,495.00 L1108.29,496.20 L1108.55,497.42 L1108.81,498.67 L1109.05,499.93 L1109.28,501.20 L1109.52,502.47 L1109.76,503.74 L1110.00,505.00 L1110.25,506.25 L1110.50,507.49 L1110.75,508.73 L1111.01,509.97 L1111.26,511.21 L1111.51,512.47 L1111.75,513.73 L1112.00,515.00 L1112.26,516.34 L1112.52,517.68 L1112.77,519.02 L1113.03,520.38 L1113.28,521.75 L1113.53,523.14 L1113.77,524.56 L1114.00,526.00 L1114.25,527.67 L1114.49,529.40 L1114.72,531.17 L1114.95,532.96 L1115.17,534.75 L1115.38,536.53 L1115.59,538.29 L1115.80,540.00 L1115.99,541.54 L1116.17,543.07 L1116.36,544.57 L1116.53,546.06 L1116.71,547.55 L1116.88,549.03 L1117.04,550.51 L1117.20,552.00 L1117.35,553.48 L1117.48,554.95 L1117.61,556.42 L1117.73,557.89 L1117.86,559.37 L1117.99,560.84 L1118.14,562.32 L1118.30,563.80 L1118.49,565.31 L1118.69,566.82 L1118.91,568.32 L1119.13,569.84 L1119.36,571.35 L1119.58,572.89 L1119.80,574.43 L1120.00,576.00 L1120.20,577.69 L1120.39,579.37 L1120.58,581.07 L1120.76,582.78 L1120.94,584.52 L1121.12,586.30 L1121.31,588.12 L1121.50,590.00 L1121.74,592.31 L1121.97,594.69 L1122.21,597.12 L1122.45,599.61 L1122.70,602.15 L1122.95,604.73 L1123.22,607.35 L1123.50,610.00 L1123.84,613.09 L1124.21,616.29 L1124.59,619.55 L1124.98,622.85 L1125.37,626.18 L1125.76,629.49 L1126.14,632.78 L1126.50,636.00 L1126.83,639.06 L1127.15,642.12 L1127.45,645.17 L1127.76,648.20 L1128.06,651.20 L1128.37,654.18 L1128.68,657.11 L1129.00,660.00 L1129.31,662.60 L1129.62,665.18 L1129.95,667.73 L1130.27,670.25 L1130.59,672.74 L1130.91,675.20 L1131.21,677.62 L1131.50,680.00 L1131.75,682.09 L1131.99,684.15 L1132.22,686.18 L1132.45,688.18 L1132.67,690.16 L1132.88,692.12 L1133.09,694.06 L1133.30,696.00 L1133.49,697.80 L1133.68,699.57 L1133.86,701.33 L1134.03,703.08 L1134.21,704.82 L1134.38,706.55 L1134.54,708.27 L1134.70,710.00 L1134.85,711.65 L1135.00,713.26 L1135.14,714.85 L1135.28,716.44 L1135.41,718.05 L1135.54,719.72 L1135.67,721.46 L1135.80,723.30 L1135.96,725.87 L1136.12,728.57 L1136.26,731.37 L1136.41,734.28 L1136.55,737.26 L1136.69,740.32 L1136.84,743.44 L1137.00,746.60 L1137.19,750.57 L1137.39,754.80 L1137.58,759.18 L1137.78,763.62 L1137.99,768.04 L1138.21,772.34 L1138.45,776.42 L1138.70,780.20 L1138.90,782.82 L1139.10,785.30 L1139.32,787.68 L1139.54,789.98 L1139.76,792.24 L1140.00,794.47 L1140.24,796.72 L1140.50,799.00 L1140.75,801.24 L1141.01,803.49 L1141.28,805.74 L1141.55,807.97 L1141.84,810.19 L1142.14,812.37 L1142.46,814.51 L1142.80,816.60 L1143.11,818.48 L1143.42,820.40 L1143.74,822.32 L1144.07,824.20 L1144.42,826.00 L1144.81,827.68 L1145.23,829.19 L1145.70,830.50 L1146.00,831.22 L1146.32,831.94 L1146.66,832.63 L1147.01,833.27 L1147.36,833.82 L1147.71,834.24 L1148.06,834.52 L1148.40,834.60 L1148.81,834.42 L1149.24,833.96 L1149.66,833.27 L1150.09,832.41 L1150.50,831.42 L1150.90,830.35 L1151.27,829.26 L1151.60,828.20 L1152.05,826.45 L1152.42,824.47 L1152.73,822.31 L1153.00,820.02 L1153.23,817.66 L1153.45,815.29 L1153.66,812.95 L1153.90,810.70 L1154.14,808.53 L1154.38,806.39 L1154.60,804.25 L1154.82,802.11 L1155.02,799.95 L1155.22,797.75 L1155.41,795.51 L1155.60,793.20 L1155.80,790.46 L1155.99,787.63 L1156.16,784.75 L1156.33,781.81 L1156.49,778.85 L1156.65,775.88 L1156.82,772.93 L1157.00,770.00 L1157.19,767.07 L1157.38,764.13 L1157.58,761.18 L1157.78,758.23 L1157.98,755.29 L1158.18,752.36 L1158.39,749.46 L1158.60,746.60 L1158.79,743.88 L1158.98,741.15 L1159.16,738.41 L1159.35,735.70 L1159.55,733.04 L1159.77,730.45 L1160.02,727.96 L1160.30,725.60 L1160.52,723.79 L1160.73,721.99 L1160.93,720.22 L1161.16,718.51 L1161.42,716.88 L1161.74,715.37 L1162.12,714.00 L1162.60,712.80 L1162.96,712.07 L1163.37,711.34 L1163.80,710.64 L1164.25,710.00 L1164.72,709.46 L1165.19,709.04 L1165.65,708.77 L1166.10,708.70 L1166.63,708.90 L1167.18,709.38 L1167.73,710.09 L1168.28,710.97 L1168.82,711.98 L1169.32,713.06 L1169.79,714.15 L1170.20,715.20 L1170.67,716.65 L1171.05,718.22 L1171.37,719.91 L1171.62,721.68 L1171.85,723.51 L1172.06,725.37 L1172.27,727.24 L1172.50,729.10 L1172.76,731.19 L1173.01,733.33 L1173.24,735.51 L1173.46,737.72 L1173.67,739.95 L1173.88,742.18 L1174.09,744.40 L1174.30,746.60 L1174.52,748.79 L1174.73,750.97 L1174.94,753.16 L1175.15,755.35 L1175.36,757.54 L1175.57,759.73 L1175.78,761.91 L1176.00,764.10 L1176.22,766.29 L1176.45,768.48 L1176.67,770.66 L1176.90,772.85 L1177.13,775.04 L1177.35,777.23 L1177.58,779.41 L1177.80,781.60 L1178.02,783.77 L1178.23,785.94 L1178.43,788.11 L1178.64,790.27 L1178.85,792.44 L1179.06,794.61 L1179.28,796.80 L1179.50,799.00 L1179.74,801.28 L1179.99,803.58 L1180.25,805.89 L1180.51,808.21 L1180.77,810.53 L1181.02,812.85 L1181.27,815.18 L1181.50,817.50 L1181.72,819.85 L1181.92,822.21 L1182.12,824.59 L1182.31,826.96 L1182.50,829.32 L1182.70,831.66 L1182.89,833.98 L1183.10,836.25 L1183.29,838.32 L1183.48,840.38 L1183.67,842.43 L1183.87,844.45 L1184.07,846.44 L1184.28,848.41 L1184.50,850.35 L1184.75,852.25 L1184.98,853.92 L1185.22,855.55 L1185.47,857.15 L1185.73,858.73 L1186.00,860.30 L1186.28,861.86 L1186.58,863.43 L1186.90,865.00 L1187.22,866.61 L1187.53,868.27 L1187.85,869.95 L1188.19,871.62 L1188.56,873.24 L1188.98,874.78 L1189.45,876.21 L1190.00,877.50 L1190.47,878.42 L1190.99,879.37 L1191.54,880.30 L1192.12,881.17 L1192.71,881.92 L1193.29,882.53 L1193.86,882.93 L1194.40,883.10 L1194.80,883.03 L1195.20,882.80 L1195.59,882.44 L1195.98,881.99 L1196.36,881.48 L1196.74,880.96 L1197.12,880.45 L1197.50,880.00 L1197.90,879.57 L1198.31,879.16 L1198.71,878.74 L1199.11,878.31 L1199.50,877.86 L1199.88,877.37 L1200.25,876.84 L1200.60,876.25 L1201.07,875.12 L1201.50,873.67 L1201.89,872.04 L1202.26,870.37 L1202.62,868.81 L1202.98,867.51 L1203.35,866.60 L1203.75,866.25 L1204.06,866.36 L1204.39,866.70 L1204.72,867.23 L1205.05,867.91 L1205.38,868.69 L1205.69,869.54 L1205.99,870.40 L1206.25,871.25 L1206.62,872.71 L1206.91,874.37 L1207.16,876.18 L1207.36,878.12 L1207.54,880.13 L1207.71,882.18 L1207.89,884.24 L1208.10,886.25 L1208.35,888.49 L1208.59,890.78 L1208.83,893.11 L1209.06,895.47 L1209.30,897.85 L1209.53,900.24 L1209.77,902.63 L1210.00,905.00 L1210.24,907.39 L1210.48,909.76 L1210.72,912.13 L1210.96,914.51 L1211.19,916.91 L1211.43,919.35 L1211.67,921.84 L1211.90,924.40 L1212.17,927.43 L1212.43,930.55 L1212.69,933.74 L1212.96,936.98 L1213.22,940.24 L1213.48,943.52 L1213.74,946.78 L1214.00,950.00 M1236.50,950.00 L1236.78,946.67 L1237.04,943.16 L1237.29,939.58 L1237.54,936.03 L1237.81,932.63 L1238.12,929.48 L1238.48,926.70 L1238.90,924.40 L1239.14,923.50 L1239.40,922.74 L1239.68,922.08 L1239.96,921.47 L1240.25,920.87 L1240.52,920.25 L1240.77,919.56 L1241.00,918.75 L1241.29,917.33 L1241.54,915.77 L1241.75,914.08 L1241.94,912.30 L1242.11,910.48 L1242.27,908.63 L1242.43,906.79 L1242.60,905.00 L1242.78,903.16 L1242.95,901.30 L1243.12,899.42 L1243.28,897.54 L1243.44,895.65 L1243.59,893.77 L1243.74,891.88 L1243.90,890.00 L1244.05,888.12 L1244.19,886.23 L1244.33,884.35 L1244.47,882.46 L1244.62,880.58 L1244.77,878.70 L1244.93,876.84 L1245.10,875.00 L1245.28,873.23 L1245.47,871.45 L1245.67,869.67 L1245.88,867.90 L1246.09,866.16 L1246.31,864.47 L1246.53,862.82 L1246.75,861.25 L1246.93,860.05 L1247.11,858.92 L1247.29,857.84 L1247.48,856.78 L1247.67,855.71 L1247.86,854.62 L1248.05,853.48 L1248.25,852.25 L1248.51,850.53 L1248.78,848.71 L1249.06,846.81 L1249.33,844.85 L1249.62,842.86 L1249.91,840.88 L1250.20,838.91 L1250.50,837.00 L1250.80,835.17 L1251.10,833.34 L1251.40,831.52 L1251.71,829.71 L1252.02,827.90 L1252.34,826.10 L1252.67,824.30 L1253.00,822.50 L1253.33,820.73 L1253.68,818.97 L1254.03,817.22 L1254.38,815.47 L1254.74,813.72 L1255.10,811.98 L1255.45,810.24 L1255.80,808.50 L1256.14,806.80 L1256.49,805.12 L1256.83,803.45 L1257.18,801.77 L1257.52,800.10 L1257.85,798.41 L1258.18,796.72 L1258.50,795.00 L1258.83,793.16 L1259.16,791.25 L1259.49,789.30 L1259.82,787.36 L1260.13,785.45 L1260.41,783.61 L1260.67,781.89 L1260.90,780.30 L1261.03,779.31 L1261.14,778.40 L1261.24,777.54 L1261.33,776.72 L1261.41,775.90 L1261.50,775.08 L1261.59,774.22 L1261.70,773.30 L1261.84,772.12 L1261.97,770.88 L1262.11,769.60 L1262.26,768.29 L1262.41,766.99 L1262.59,765.71 L1262.78,764.47 L1263.00,763.30 L1263.20,762.36 L1263.42,761.44 L1263.64,760.55 L1263.88,759.68 L1264.14,758.82 L1264.41,757.98 L1264.69,757.14 L1265.00,756.30 L1265.33,755.49 L1265.69,754.69 L1266.06,753.91 L1266.46,753.13 L1266.85,752.36 L1267.25,751.58 L1267.63,750.80 L1268.00,750.00 L1268.35,749.16 L1268.67,748.30 L1268.99,747.43 L1269.30,746.55 L1269.62,745.69 L1269.95,744.85 L1270.31,744.05 L1270.70,743.30 L1271.07,742.64 L1271.46,741.93 L1271.88,741.21 L1272.30,740.53 L1272.73,739.93 L1273.16,739.44 L1273.59,739.12 L1274.00,739.00 L1274.39,739.10 L1274.78,739.38 L1275.18,739.81 L1275.57,740.33 L1275.95,740.93 L1276.33,741.55 L1276.68,742.15 L1277.00,742.70 L1277.30,743.24 L1277.57,743.82 L1277.81,744.42 L1278.04,745.02 L1278.27,745.62 L1278.50,746.21 L1278.74,746.77 L1279.00,747.30 L1279.23,747.74 L1279.45,748.19 L1279.66,748.63 L1279.89,749.06 L1280.13,749.46 L1280.39,749.81 L1280.68,750.09 L1281.00,750.30 L1281.36,750.42 L1281.76,750.49 L1282.19,750.50 L1282.64,750.47 L1283.09,750.39 L1283.53,750.28 L1283.93,750.15 L1284.30,750.00 L1284.60,749.84 L1284.89,749.66 L1285.16,749.44 L1285.42,749.21 L1285.66,748.94 L1285.88,748.66 L1286.10,748.34 L1286.30,748.00 L1286.56,747.43 L1286.78,746.76 L1286.97,746.03 L1287.13,745.25 L1287.27,744.44 L1287.40,743.61 L1287.55,742.79 L1287.70,742.00 L1287.86,741.16 L1288.00,740.28 L1288.13,739.39 L1288.26,738.49 L1288.40,737.61 L1288.56,736.77 L1288.76,736.00 L1289.00,735.30 L1289.21,734.81 L1289.43,734.30 L1289.67,733.80 L1289.93,733.34 L1290.19,732.93 L1290.46,732.60 L1290.73,732.38 L1291.00,732.30 L1291.28,732.37 L1291.58,732.58 L1291.88,732.91 L1292.19,733.32 L1292.49,733.80 L1292.78,734.30 L1293.05,734.81 L1293.30,735.30 L1293.58,735.93 L1293.84,736.60 L1294.07,737.32 L1294.27,738.07 L1294.47,738.86 L1294.65,739.66 L1294.82,740.48 L1295.00,741.30 L1295.20,742.30 L1295.39,743.34 L1295.56,744.41 L1295.72,745.50 L1295.87,746.62 L1296.02,747.74 L1296.16,748.87 L1296.30,750.00 L1296.45,751.22 L1296.59,752.45 L1296.72,753.70 L1296.84,754.95 L1296.96,756.22 L1297.08,757.48 L1297.19,758.74 L1297.30,760.00 L1297.40,761.25 L1297.49,762.50 L1297.57,763.75 L1297.64,765.00 L1297.72,766.25 L1297.80,767.50 L1297.90,768.75 L1298.00,770.00 L1298.12,771.24 L1298.24,772.48 L1298.36,773.70 L1298.50,774.93 L1298.63,776.17 L1298.78,777.42 L1298.94,778.70 L1299.10,780.00 L1299.30,781.48 L1299.51,782.99 L1299.73,784.51 L1299.96,786.05 L1300.20,787.62 L1300.43,789.21 L1300.67,790.84 L1300.90,792.50 L1301.16,794.47 L1301.42,796.51 L1301.69,798.59 L1301.95,800.70 L1302.21,802.83 L1302.47,804.97 L1302.74,807.10 L1303.00,809.20 L1303.26,811.28 L1303.52,813.35 L1303.79,815.43 L1304.05,817.50 L1304.31,819.57 L1304.58,821.65 L1304.84,823.72 L1305.10,825.80 L1305.36,827.91 L1305.61,830.06 L1305.87,832.22 L1306.12,834.38 L1306.38,836.51 L1306.64,838.58 L1306.91,840.59 L1307.20,842.50 L1307.44,843.97 L1307.68,845.40 L1307.93,846.79 L1308.19,848.14 L1308.45,849.46 L1308.71,850.76 L1308.98,852.03 L1309.25,853.30 L1309.48,854.44 L1309.70,855.59 L1309.92,856.74 L1310.14,857.87 L1310.38,858.95 L1310.65,859.97 L1310.95,860.89 L1311.30,861.70 L1311.56,862.20 L1311.85,862.71 L1312.15,863.20 L1312.46,863.65 L1312.78,864.04 L1313.09,864.34 L1313.40,864.53 L1313.70,864.60 L1313.99,864.53 L1314.29,864.33 L1314.58,864.04 L1314.88,863.66 L1315.16,863.22 L1315.43,862.73 L1315.68,862.22 L1315.90,861.70 L1316.22,860.70 L1316.45,859.52 L1316.63,858.19 L1316.76,856.76 L1316.87,855.27 L1316.96,853.75 L1317.07,852.25 L1317.20,850.80 L1317.35,849.28 L1317.49,847.73 L1317.63,846.17 L1317.76,844.60 L1317.89,843.02 L1318.04,841.44 L1318.21,839.87 L1318.40,838.30 L1318.62,836.73 L1318.85,835.17 L1319.10,833.61 L1319.37,832.04 L1319.64,830.48 L1319.93,828.92 L1320.21,827.36 L1320.50,825.80 L1320.79,824.24 L1321.10,822.67 L1321.41,821.11 L1321.73,819.55 L1322.05,817.99 L1322.37,816.42 L1322.68,814.86 L1323.00,813.30 L1323.31,811.71 L1323.63,810.08 L1323.95,808.44 L1324.26,806.80 L1324.58,805.19 L1324.89,803.64 L1325.20,802.17 L1325.50,800.80 L1325.70,799.83 L1325.88,798.87 L1326.05,797.92 L1326.22,797.02 L1326.41,796.18 L1326.62,795.41 L1326.88,794.75 L1327.20,794.20 L1327.42,793.92 L1327.66,793.66 L1327.92,793.43 L1328.19,793.24 L1328.46,793.08 L1328.73,792.96 L1329.00,792.90 L1329.25,792.90 L1329.52,792.98 L1329.79,793.14 L1330.05,793.37 L1330.31,793.65 L1330.57,793.97 L1330.82,794.31 L1331.06,794.66 L1331.30,795.00 L1331.58,795.45 L1331.84,795.96 L1332.09,796.51 L1332.33,797.08 L1332.58,797.65 L1332.83,798.21 L1333.10,798.73 L1333.40,799.20 L1333.68,799.57 L1333.98,799.91 L1334.29,800.23 L1334.60,800.54 L1334.93,800.84 L1335.25,801.13 L1335.58,801.41 L1335.90,801.70 L1336.21,801.98 L1336.52,802.25 L1336.83,802.52 L1337.15,802.79 L1337.46,803.04 L1337.78,803.29 L1338.09,803.53 L1338.40,803.75 L1338.67,803.92 L1338.95,804.06 L1339.22,804.19 L1339.50,804.31 L1339.77,804.44 L1340.03,804.59 L1340.27,804.77 L1340.50,805.00 L1340.78,805.38 L1341.03,805.81 L1341.26,806.29 L1341.46,806.82 L1341.65,807.38 L1341.84,807.97 L1342.02,808.58 L1342.20,809.20 L1342.44,810.09 L1342.67,811.04 L1342.88,812.05 L1343.08,813.09 L1343.27,814.17 L1343.45,815.28 L1343.63,816.39 L1343.80,817.50 L1343.99,818.77 L1344.17,820.06 L1344.34,821.38 L1344.50,822.71 L1344.65,824.08 L1344.80,825.46 L1344.95,826.87 L1345.10,828.30 L1345.27,830.00 L1345.42,831.77 L1345.58,833.60 L1345.73,835.44 L1345.87,837.28 L1346.02,839.09 L1346.16,840.84 L1346.30,842.50 L1346.42,843.81 L1346.53,845.08 L1346.64,846.32 L1346.75,847.53 L1346.86,848.73 L1346.98,849.91 L1347.09,851.10 L1347.20,852.30 L1347.31,853.44 L1347.42,854.55 L1347.53,855.64 L1347.65,856.74 L1347.76,857.85 L1347.87,859.00 L1347.99,860.21 L1348.10,861.50 L1348.26,863.39 L1348.41,865.42 L1348.56,867.54 L1348.72,869.74 L1348.88,871.99 L1349.04,874.26 L1349.21,876.52 L1349.40,878.75 L1349.61,881.07 L1349.82,883.42 L1350.05,885.80 L1350.28,888.19 L1350.52,890.56 L1350.76,892.92 L1351.01,895.23 L1351.25,897.50 L1351.47,899.54 L1351.70,901.56 L1351.93,903.57 L1352.16,905.55 L1352.40,907.50 L1352.63,909.41 L1352.87,911.28 L1353.10,913.10 L1353.30,914.57 L1353.50,915.95 L1353.70,917.27 L1353.90,918.58 L1354.10,919.91 L1354.30,921.29 L1354.50,922.78 L1354.70,924.40 L1354.99,927.10 L1355.28,930.07 L1355.57,933.24 L1355.86,936.55 L1356.14,939.94 L1356.43,943.36 L1356.71,946.73 L1357.00,950.00" stroke="#000" stroke-width="2.8"/>
</g>
<rect x="198.4" y="210.15" width="318.85" height="78.15" fill="#fff" stroke="#000" stroke-width="1.3"/>
<line x1="210" y1="232.7" x2="280" y2="232.7" stroke="#d0321d" stroke-width="2.8"/>
<line x1="210" y1="267.3" x2="280" y2="267.3" stroke="#000" stroke-width="2.8"/>
<text x="302.8" y="242.9" font-size="29">Impedance</text>
<text x="302.8" y="277.5" font-size="29">on axis</text>
<g font-size="26">
<text x="174.3" y="933.60" text-anchor="end">55</text>
<text x="174.3" y="861.45" text-anchor="end">60</text>
<text x="174.3" y="789.30" text-anchor="end">65</text>
<text x="174.3" y="717.15" text-anchor="end">70</text>
<text x="174.3" y="645.00" text-anchor="end">75</text>
<text x="174.3" y="572.85" text-anchor="end">80</text>
<text x="174.3" y="500.70" text-anchor="end">85</text>
<text x="174.3" y="428.55" text-anchor="end">90</text>
<text x="174.3" y="356.40" text-anchor="end">95</text>
<text x="174.3" y="284.25" text-anchor="end">100</text>
<text x="174.3" y="212.10" text-anchor="end">105</text>
<text x="1424.6" y="933.80">0</text>
<text x="1424.6" y="753.42">50</text>
<text x="1424.6" y="573.05">100</text>
<text x="1424.6" y="392.68">150</text>
<text x="1424.6" y="212.30">200</text>
<text x="191.50" y="960.9" text-anchor="middle">20</text>
<text x="475.05" y="960.9" text-anchor="middle">100</text>
<text x="880.72" y="960.9" text-anchor="middle">1000</text>
<text x="1286.38" y="960.9" text-anchor="middle">10000</text>
</g>
<text x="800" y="1009.9" font-size="34.8" text-anchor="middle">Frequency (Hz)</text>
<text transform="translate(62.7,563.75) rotate(-90)" x="0" y="0" font-size="34.8" text-anchor="middle">SPL (dB) @ 2.83V, 1m, half space</text>
<text transform="translate(1496,563.75) rotate(90)" x="0" y="0" font-size="34.8" text-anchor="middle">Impedance (Ohm)</text>
</svg>
</body></html>
